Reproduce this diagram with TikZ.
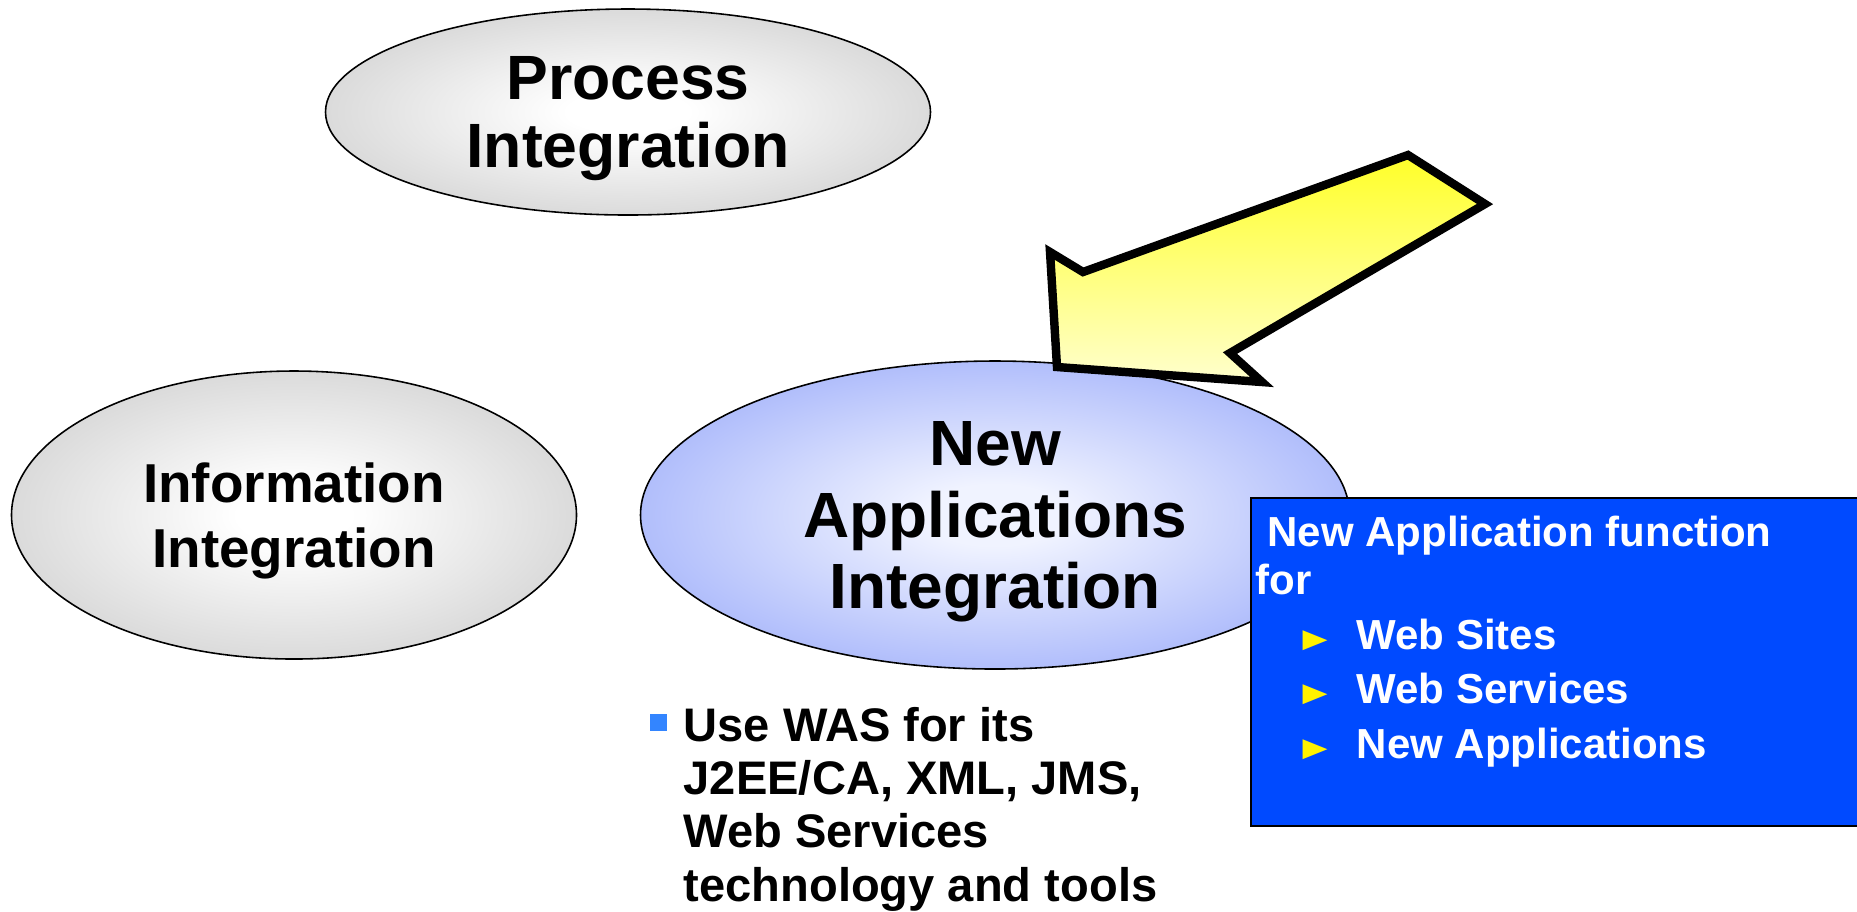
\documentclass[tikz,border=0pt]{standalone}
\usepackage{fontspec}
\setmainfont{Liberation Sans}
\newfontfamily\symfont{DejaVu Sans}
\usepackage{xcolor}
\usepackage{tikz}
\usetikzlibrary{shapes,positioning}

\definecolor{ovalgray}{RGB}{186,186,186}
\definecolor{ovalblue}{RGB}{120,142,248}
\definecolor{paleblue}{RGB}{240,243,255}
\definecolor{boxblue}{RGB}{0,74,255}
\definecolor{arrowtop}{RGB}{255,255,40}
\definecolor{arrowbot}{RGB}{255,255,205}
\definecolor{sqblue}{RGB}{51,133,255}

\pgfdeclareradialshading{grayoval}{\pgfpoint{0bp}{0bp}}{color(0bp)=(white); color(5bp)=(white); color(43bp)=(ovalgray); color(50bp)=(ovalgray)}
\pgfdeclareradialshading{blueoval}{\pgfpoint{0bp}{0bp}}{color(0bp)=(paleblue); color(5bp)=(paleblue); color(43bp)=(ovalblue); color(50bp)=(ovalblue)}

\newcommand\ytri{\hspace*{0.47cm}\makebox[0.54cm][l]{\raisebox{0.02cm}{\textcolor{yellow}{\resizebox*{0.25cm}{0.2cm}{\symfont ▶}}}}}

\begin{document}
\begin{tikzpicture}[x=1cm,y=-1cm,
  main node/.style={ellipse,draw,line width=0.45pt,inner sep=0pt,align=center,text depth=0pt,shade},
  gray node/.style={main node,shading=grayoval},
  blue node/.style={main node,shading=blueoval},
  big arrow/.style={line width=2.4pt,line join=miter,top color=arrowtop,bottom color=arrowbot}]
  \useasboundingbox (0,0) rectangle (18.57,9.11);

  \node[gray node,minimum width=6.05cm,minimum height=2.06cm,
    font=\bfseries\fontsize{17.8pt}{19.3pt}\selectfont] (proc) at (6.28,1.12) {Process\\Integration};
  \node[gray node,minimum width=5.65cm,minimum height=2.88cm,
    font=\bfseries\fontsize{15.6pt}{18.3pt}\selectfont] (info) at (2.94,5.15) {Information\\Integration};
  \node[blue node,minimum width=7.09cm,minimum height=3.08cm,
    font=\bfseries\fontsize{18.2pt}{20.4pt}\selectfont] (app) at (9.95,5.15) {New\\Applications\\Integration};

  % arrow pointing at the new applications oval
  \draw[big arrow] (10.50,2.52) -- (10.83,2.72) -- (14.08,1.55) -- (14.85,2.04)
    -- (12.30,3.53) -- (12.62,3.82) -- (10.57,3.67) -- cycle;

  \node[draw=black,line width=0.6pt,fill=boxblue,minimum width=6.4cm,minimum height=3.28cm,
    anchor=north west,inner sep=0pt] (box) at (12.50,4.97) {};
  \node[anchor=north west,inner sep=0pt,text=white,align=left,
    font=\bfseries\fontsize{11.95pt}{15.6pt}\selectfont] (boxtext)
    at ([xshift=0.05cm,yshift=-0.18cm]box.north west)
    {\ New Application function\\[-1.9pt]
     for\\
     \ytri Web Sites\\
     \ytri Web Services\\
     \ytri New Applications};

  \node[anchor=north west,inner sep=0pt,align=left,
    font=\bfseries\fontsize{13.4pt}{15.1pt}\selectfont] (was) at (6.83,7.07)
    {\llap{\textcolor{sqblue}{\rule[0.11cm]{0.17cm}{0.17cm}}\hspace{0.17cm}}Use WAS for its\\
     J2EE/CA, XML, JMS,\\
     Web Services\\
     technology and tools};
\end{tikzpicture}
\end{document}
